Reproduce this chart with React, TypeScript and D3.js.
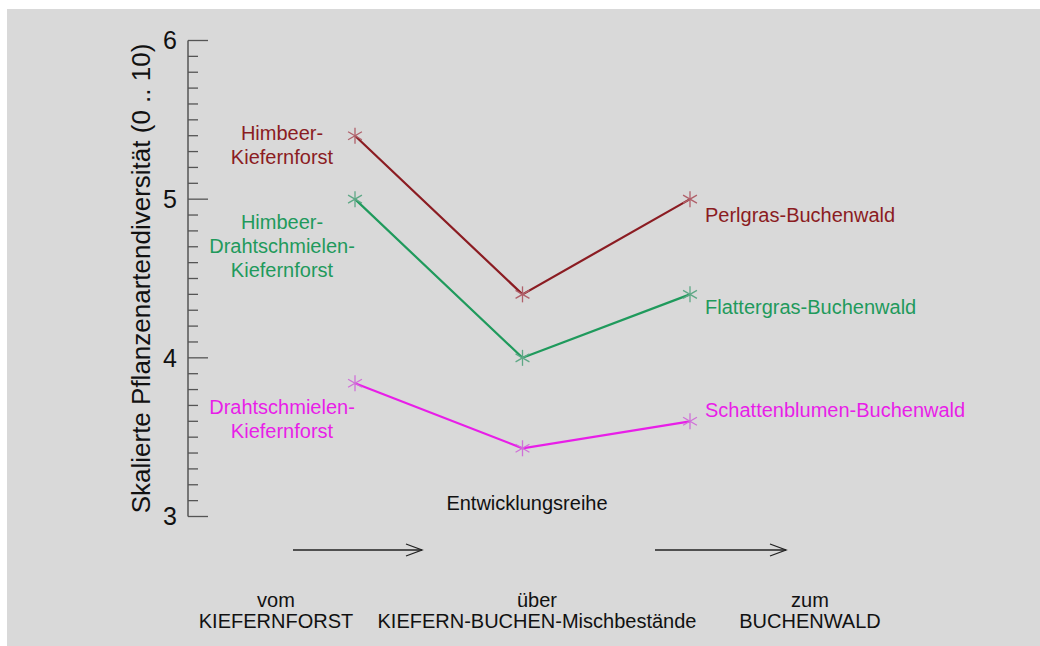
import React from "react";
import * as d3 from "d3";

const stages = ["vom", "über", "zum"];
const stageX = [0, 1, 2];
const perlgras = [5.4, 4.4, 5.0];
const flattergras = [5.0, 4.0, 4.4];
const schattenblumen = [3.84, 3.43, 3.6];
const yTicks = [3, 4, 5, 6];

const seriesList = [
  { name: "perlgras", values: perlgras, color: "#8b1c22", marker: "#b0606a",
    left: ["Himbeer-", "Kiefernforst"], right: "Perlgras-Buchenwald" },
  { name: "flattergras", values: flattergras, color: "#1f9a5c", marker: "#5ea886",
    left: ["Himbeer-", "Drahtschmielen-", "Kiefernforst"], right: "Flattergras-Buchenwald" },
  { name: "schattenblumen", values: schattenblumen, color: "#e81ee8", marker: "#d070d8",
    left: ["Drahtschmielen-", "Kiefernforst"], right: "Schattenblumen-Buchenwald" },
];

const leftLabelY = [[133, 157], [222, 246, 270], [407, 431]];
const rightLabelY = [215, 307, 410];

const bottomLabels = [
  ["vom", "KIEFERNFORST"],
  ["über", "KIEFERN-BUCHEN-Mischbestände"],
  ["zum", "BUCHENWALD"],
];
const bottomX = [276, 537, 810];

export default function App() {
  const W = 1040, H = 646;
  const x = d3.scaleLinear().domain([0, 2]).range([355, 690]);
  const y = d3.scaleLinear().domain([3, 6]).range([516.5, 40.5]);
  const line = d3.line<number>().x((_, i) => x(stageX[i])).y((d) => y(d));
  const minor = d3.range(30, 61).map((v) => v / 10);
  const font = "Liberation Sans, Arial, Helvetica, sans-serif";
  const star = (cx: number, cy: number, c: string, k: string) => {
    const r = 8;
    const angles = [90, 30, 150];
    return (
      <g key={k} stroke={c} strokeWidth={1.3}>
        {angles.map((a) => {
          const rad = (a * Math.PI) / 180;
          const dx = r * Math.cos(rad), dy = r * Math.sin(rad);
          return <line key={a} x1={cx - dx} y1={cy - dy} x2={cx + dx} y2={cy + dy} />;
        })}
      </g>
    );
  };
  const arrow = (x1: number, x2: number, yy: number, k: string) => (
    <g key={k} stroke="#222" strokeWidth={1.3} fill="none">
      <line x1={x1} y1={yy} x2={x2} y2={yy} />
      <polyline points={`${x2 - 16},${yy - 6} ${x2},${yy} ${x2 - 16},${yy + 6}`} />
    </g>
  );
  return (
    <div style={{ position: "fixed", left: 0, top: 0 }}>
      <svg width={W} height={H} style={{ display: "block" }} fontFamily={font}>
        <rect x={0} y={0} width={W} height={H} fill="#ffffff" />
        <rect x={7} y={9} width={W - 7} height={H - 9} fill="#d9d9d9" />
        <line x1={188} x2={188} y1={y(6)} y2={y(3)} stroke="#555" strokeWidth={1.5} />
        {minor.map((v) => {
          const major = Math.abs(v - Math.round(v)) < 1e-6;
          return (
            <line key={v} x1={188} x2={major ? 208 : 198} y1={y(v)} y2={y(v)} stroke="#555" strokeWidth={1.3} />
          );
        })}
        {yTicks.map((t) => (
          <text key={t} x={170} y={y(t)} dy="0.35em" textAnchor="middle" fontSize={25} fill="#111">{t}</text>
        ))}
        <text transform={`translate(141,${(y(6) + y(3)) / 2}) rotate(-90)`} textAnchor="middle" fontSize={26} fill="#111" dy="0.35em">
          Skalierte Pflanzenartendiversität (0 .. 10)
        </text>
        {seriesList.map((s, si) => (
          <g key={s.name}>
            <path d={line(s.values) || ""} fill="none" stroke={s.color} strokeWidth={2.2} />
            {s.values.map((v, i) => star(x(stageX[i]), y(v), s.marker, `${s.name}${i}`))}
            {s.left.map((t, li) => (
              <text key={li} x={282} y={leftLabelY[si][li]} dy="0.35em" textAnchor="middle" fontSize={20} fill={s.color}>{t}</text>
            ))}
            <text x={705} y={rightLabelY[si]} dy="0.35em" fontSize={20} fill={s.color}>{s.right}</text>
          </g>
        ))}
        <text x={527} y={503} dy="0.35em" textAnchor="middle" fontSize={20} fill="#111">Entwicklungsreihe</text>
        {arrow(293, 422, 550, "a1")}
        {arrow(655, 786, 550, "a2")}
        {bottomLabels.map((b, i) => (
          <g key={stages[i]}>
            <text x={bottomX[i]} y={600} dy="0.35em" textAnchor="middle" fontSize={20} fill="#111">{b[0]}</text>
            <text x={bottomX[i]} y={621} dy="0.35em" textAnchor="middle" fontSize={20} fill="#111">{b[1]}</text>
          </g>
        ))}
      </svg>
    </div>
  );
}
